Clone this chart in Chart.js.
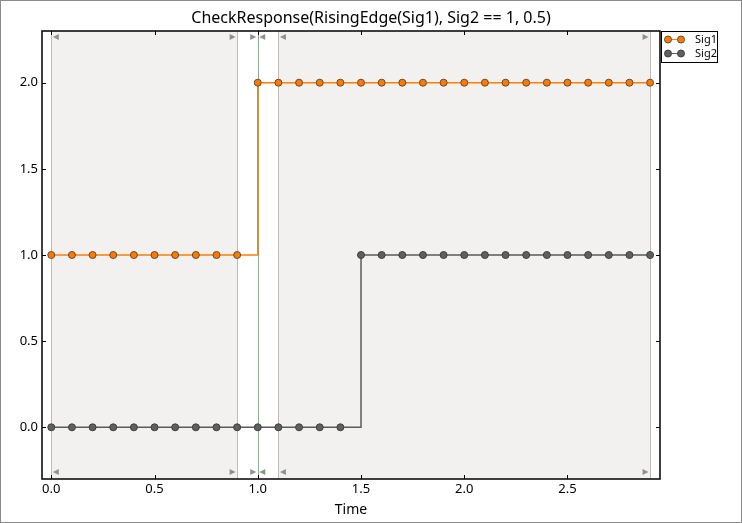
<!DOCTYPE html>
<html>
<head>
<meta charset="utf-8">
<script src="https://cdn.jsdelivr.net/npm/chart.js@4"></script>
<style>
  html, body { margin: 0; padding: 0; background: #fff; }
  #wrap { width: 742px; height: 523px; }
</style>
</head>
<body>
<div id="wrap"><canvas id="chart" width="742" height="523"></canvas></div>
<script>
// Sample times and signal values
const times = [0.0, 0.1, 0.2, 0.3, 0.4, 0.5, 0.6, 0.7, 0.8, 0.9,
               1.0, 1.1, 1.2, 1.3, 1.4, 1.5, 1.6, 1.7, 1.8, 1.9,
               2.0, 2.1, 2.2, 2.3, 2.4, 2.5, 2.6, 2.7, 2.8, 2.9];
const sig1 = [1, 1, 1, 1, 1, 1, 1, 1, 1, 1,
              2, 2, 2, 2, 2, 2, 2, 2, 2, 2,
              2, 2, 2, 2, 2, 2, 2, 2, 2, 2];
const sig2 = [0, 0, 0, 0, 0, 0, 0, 0, 0, 0,
              0, 0, 0, 0, 0, 1, 1, 1, 1, 1,
              1, 1, 1, 1, 1, 1, 1, 1, 1, 1];

const xTicks = [0.0, 0.5, 1.0, 1.5, 2.0, 2.5];
const yTicks = [0.0, 0.5, 1.0, 1.5, 2.0];

// Shaded check windows and the trigger instant
const windowStarts = [0.0, 1.1];
const windowEnds = [0.9, 2.9];
const triggerTimes = [1.0];

const chartTitle = 'CheckResponse(RisingEdge(Sig1), Sig2 == 1, 0.5)';

const toPoints = (ys) => times.map((t, i) => ({ x: t, y: ys[i] }));

/**
 * Draws shaded windows, boundary lines and triangle markers behind the data
 */
const windowPlugin = {
    id: 'windows',
    beforeDatasetsDraw(chart) {
        const { ctx, chartArea: a, scales } = chart;
        const x = scales.x;
        ctx.save();
        ctx.beginPath();
        ctx.rect(a.left, a.top, a.right - a.left, a.bottom - a.top);
        ctx.clip();

        ctx.fillStyle = '#f2f1f0';
        windowStarts.forEach((s, i) => {
            const x0 = x.getPixelForValue(s);
            const x1 = x.getPixelForValue(windowEnds[i]);
            ctx.fillRect(x0, a.top, x1 - x0, a.bottom - a.top);
        });

        const vline = (v, color) => {
            const px = Math.round(x.getPixelForValue(v)) + 0.5;
            ctx.strokeStyle = color;
            ctx.lineWidth = 1;
            ctx.beginPath();
            ctx.moveTo(px, a.top);
            ctx.lineTo(px, a.bottom);
            ctx.stroke();
        };
        windowStarts.forEach(v => vline(v, '#bdbdbd'));
        windowEnds.forEach(v => vline(v, '#bdbdbd'));
        triggerTimes.forEach(v => vline(v, '#8fae8f'));

        // small triangles: dir -1 points left, +1 points right
        const tri = (v, dir) => {
            const px = x.getPixelForValue(v);
            const cx = px - dir * 4.5;
            const ys = [a.top + 6, a.bottom - 7];
            ctx.fillStyle = '#909090';
            ys.forEach(cy => {
                ctx.beginPath();
                ctx.moveTo(cx + dir * 3, cy);
                ctx.lineTo(cx - dir * 3, cy - 3);
                ctx.lineTo(cx - dir * 3, cy + 3);
                ctx.closePath();
                ctx.fill();
            });
        };
        windowStarts.forEach(v => tri(v, -1));
        windowEnds.forEach(v => tri(v, 1));
        triggerTimes.forEach(v => { tri(v, 1); tri(v, -1); });
        ctx.restore();
    },
    afterDraw(chart) {
        const { ctx, chartArea: a, scales } = chart;
        ctx.save();
        // title centred on the whole figure
        ctx.fillStyle = '#000';
        ctx.font = '16px "Noto Sans"';
        ctx.textAlign = 'center';
        ctx.textBaseline = 'middle';
        ctx.fillText(chartTitle, chart.width / 2, 18);
        ctx.textAlign = 'left';

        // inward ticks on all four sides
        ctx.strokeStyle = '#000';
        ctx.lineWidth = 1;
        ctx.beginPath();
        xTicks.forEach(v => {
            const px = Math.round(scales.x.getPixelForValue(v)) + 0.5;
            ctx.moveTo(px, a.bottom); ctx.lineTo(px, a.bottom - 4);
            ctx.moveTo(px, a.top); ctx.lineTo(px, a.top + 4);
        });
        yTicks.forEach(v => {
            const py = Math.round(scales.y.getPixelForValue(v)) + 0.5;
            ctx.moveTo(a.left, py); ctx.lineTo(a.left + 4, py);
            ctx.moveTo(a.right, py); ctx.lineTo(a.right - 4, py);
        });
        ctx.stroke();

        // plot frame
        ctx.lineWidth = 1.5;
        ctx.strokeRect(a.left, a.top, a.right - a.left, a.bottom - a.top);

        // legend box outside on the right
        const lx = a.right + 1, ly = a.top, lw = 57, lh = 32;
        ctx.fillStyle = '#fff';
        ctx.fillRect(lx, ly, lw, lh);
        ctx.lineWidth = 1;
        ctx.strokeStyle = '#000';
        ctx.strokeRect(lx + 0.5, ly + 0.5, lw - 1, lh - 1);
        chart.data.datasets.forEach((ds, i) => {
            const y = ly + 8.5 + i * 14;
            ctx.strokeStyle = ds.borderColor;
            ctx.lineWidth = 1;
            ctx.beginPath();
            ctx.moveTo(lx + 7, y); ctx.lineTo(lx + 20, y);
            ctx.stroke();
            [lx + 7, lx + 20].forEach(px => {
                ctx.beginPath();
                ctx.arc(px, y, 3.5, 0, Math.PI * 2);
                ctx.fillStyle = ds.pointBackgroundColor;
                ctx.fill();
                ctx.strokeStyle = ds.pointBorderColor;
                ctx.stroke();
            });
            ctx.fillStyle = '#000';
            ctx.font = '11px "Noto Sans"';
            ctx.textBaseline = 'middle';
            ctx.fillText(ds.label, lx + 34, y);
        });

        // figure border
        ctx.strokeStyle = '#8a8a8a';
        ctx.lineWidth = 1;
        ctx.strokeRect(0.5, 0.5, chart.width - 1, chart.height - 1);
        ctx.restore();
    }
};

new Chart(document.getElementById('chart'), {
    type: 'scatter',
    data: {
        datasets: [{
            label: 'Sig1',
            data: toPoints(sig1),
            showLine: true,
            stepped: true,
            borderColor: '#ff7f00',
            borderWidth: 1.5,
            pointRadius: 3.5,
            pointBackgroundColor: '#f57c0a',
            pointBorderColor: '#6b4a2a',
            pointBorderWidth: 1
        }, {
            label: 'Sig2',
            data: toPoints(sig2),
            showLine: true,
            stepped: true,
            borderColor: '#5a5a5a',
            borderWidth: 1.5,
            pointRadius: 3.5,
            pointBackgroundColor: '#5f5f5f',
            pointBorderColor: '#404040',
            pointBorderWidth: 1
        }]
    },
    options: {
        responsive: false,
        animation: false,
        layout: { padding: { left: 0, right: 82, top: 31, bottom: 0 } },
        plugins: {
            legend: { display: false },
            tooltip: { enabled: false },
            title: { display: false }
        },
        scales: {
            x: {
                type: 'linear',
                min: -0.045,
                max: 2.948,
                afterBuildTicks: (s) => { s.ticks = xTicks.map(v => ({ value: v })); },
                afterFit: (s) => { s.height = 44; },
                ticks: {
                    color: '#000',
                    font: { family: 'Noto Sans', size: 13 },
                    padding: 2,
                    maxRotation: 0,
                    callback: (v) => v.toFixed(1)
                },
                grid: { display: false, drawTicks: false, tickLength: 0 },
                border: { display: false },
                title: {
                    display: true,
                    text: 'Time',
                    color: '#000',
                    font: { family: 'Noto Sans', size: 14 },
                    padding: { top: 0, bottom: 5 }
                }
            },
            y: {
                type: 'linear',
                min: -0.3,
                max: 2.3,
                afterBuildTicks: (s) => { s.ticks = yTicks.map(v => ({ value: v })); },
                afterFit: (s) => { s.width = 42; },
                ticks: {
                    color: '#000',
                    font: { family: 'Noto Sans', size: 13 },
                    padding: 4,
                    callback: (v) => v.toFixed(1)
                },
                grid: { display: false, drawTicks: false, tickLength: 0 },
                border: { display: false }
            }
        }
    },
    plugins: [windowPlugin]
});
</script>
</body>
</html>
